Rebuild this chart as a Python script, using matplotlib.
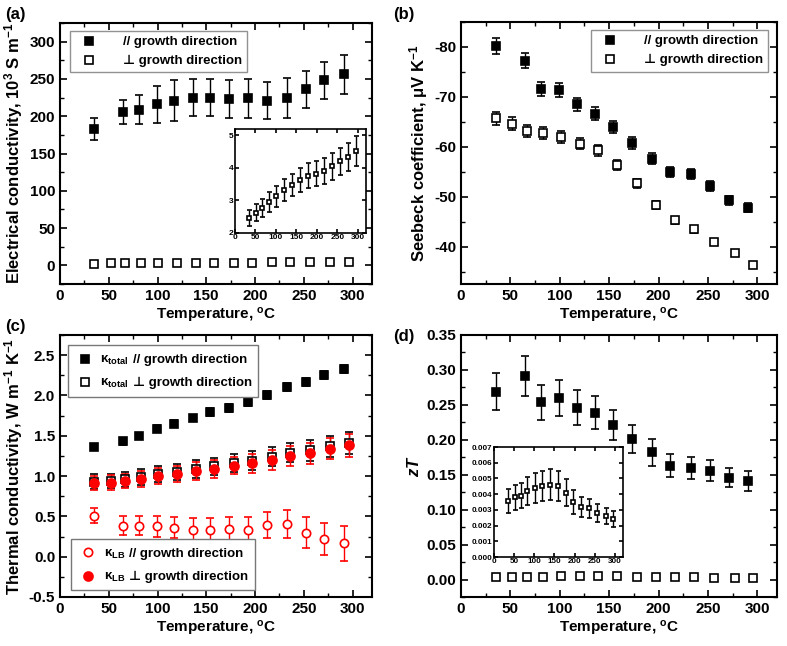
import matplotlib
matplotlib.use('Agg')
import matplotlib.pyplot as plt
from matplotlib.ticker import MultipleLocator, FormatStrFormatter
from matplotlib.offsetbox import AnchoredOffsetbox, HPacker, VPacker, TextArea, DrawingArea
from matplotlib.lines import Line2D

plt.rcParams['font.family'] = ['Liberation Sans', 'DejaVu Sans']
plt.rcParams['font.weight'] = 'bold'
plt.rcParams['axes.labelweight'] = 'bold'
plt.rcParams['axes.unicode_minus'] = False
plt.rcParams['mathtext.fontset'] = 'custom'
plt.rcParams['mathtext.rm'] = 'Liberation Sans:bold'
plt.rcParams['mathtext.it'] = 'Liberation Sans:bold:italic'
plt.rcParams['mathtext.bf'] = 'Liberation Sans:bold'

# temperatures (deg C)
T_par = [35, 65, 81, 99, 117, 136, 154, 173, 193, 212, 233, 252, 271, 291]
T_perp = [35, 52, 67, 83, 101, 120, 139, 158, 178, 197, 217, 236, 256, 277, 296]

# (a) electrical conductivity, 10^3 S/m
sig_par = [183, 206, 209, 216, 221, 225, 225, 223, 224, 221, 224, 236, 248, 256]
sig_par_err = [15, 16, 20, 25, 27, 25, 25, 25, 26, 25, 27, 25, 25, 26]
sig_perp = [2.45, 2.63, 2.78, 2.95, 3.13, 3.32, 3.48, 3.63, 3.76, 3.83, 3.92, 4.05, 4.20, 4.35, 4.53]
sig_perp_err = [0.25, 0.27, 0.28, 0.30, 0.32, 0.33, 0.35, 0.37, 0.38, 0.39, 0.40, 0.41, 0.42, 0.43, 0.46]

# (b) Seebeck coefficient, uV/K
S_par = [-80.1, -77.2, -71.5, -71.4, -68.5, -66.6, -64.0, -60.8, -57.6, -54.9, -54.5, -52.1, -49.3, -47.8]
S_par_err = [1.6, 1.5, 1.4, 1.4, 1.3, 1.3, 1.2, 1.2, 1.1, 1.0, 1.0, 1.0, 0.9, 0.9]
S_perp = [-65.7, -64.6, -63.1, -62.8, -62.0, -60.6, -59.3, -56.4, -52.7, -48.3, -45.3, -43.5, -40.9, -38.7, -36.4]
S_perp_err = [1.3, 1.3, 1.2, 1.2, 1.2, 1.1, 1.1, 1.0, 0.9, 0.8, 0.7, 0.7, 0.6, 0.6, 0.5]

# (c) thermal conductivity, W/m/K
k_par = [1.36, 1.43, 1.50, 1.59, 1.65, 1.72, 1.79, 1.85, 1.92, 2.01, 2.11, 2.17, 2.25, 2.33]
k_par_err = [0.04, 0.04, 0.04, 0.04, 0.04, 0.04, 0.05, 0.05, 0.05, 0.05, 0.05, 0.05, 0.05, 0.05]
k_perp = [0.93, 0.94, 0.96, 0.99, 1.03, 1.05, 1.09, 1.12, 1.16, 1.19, 1.24, 1.29, 1.32, 1.37, 1.41]
k_perp_err = [0.09, 0.09, 0.09, 0.10, 0.10, 0.10, 0.11, 0.11, 0.11, 0.12, 0.12, 0.12, 0.13, 0.13, 0.14]
kLB_par = [0.51, 0.385, 0.385, 0.377, 0.357, 0.336, 0.336, 0.344, 0.336, 0.394, 0.406, 0.30, 0.22, 0.166]
kLB_par_err = [0.09, 0.12, 0.12, 0.13, 0.13, 0.14, 0.15, 0.15, 0.16, 0.16, 0.17, 0.19, 0.20, 0.22]
kLB_perp = [0.916, 0.92, 0.94, 0.96, 1.00, 1.03, 1.06, 1.09, 1.13, 1.16, 1.20, 1.25, 1.285, 1.34, 1.38]
kLB_perp_err = [0.09, 0.09, 0.09, 0.10, 0.10, 0.10, 0.11, 0.11, 0.11, 0.12, 0.12, 0.12, 0.13, 0.13, 0.14]

# (d) zT
zT_par = [0.269, 0.291, 0.254, 0.260, 0.246, 0.239, 0.221, 0.201, 0.182, 0.163, 0.160, 0.156, 0.146, 0.141]
zT_par_err = [0.026, 0.029, 0.025, 0.026, 0.025, 0.024, 0.022, 0.020, 0.019, 0.016, 0.016, 0.015, 0.014, 0.014]
zT_perp = [0.00355, 0.0038, 0.0039, 0.0042, 0.0044, 0.0045, 0.0046, 0.0045, 0.0041, 0.0035, 0.0032, 0.0031, 0.0028, 0.0026, 0.0024]
zT_perp_err = [0.00077, 0.0008, 0.0008, 0.0009, 0.00095, 0.00095, 0.001, 0.00095, 0.00085, 0.00075, 0.00065, 0.0006, 0.00055, 0.0005, 0.0005]

xlabel = 'Temperature, $^{\\rm o}$C'
lab_par = '// growth direction'
lab_perp = '\u22a5 growth direction'


def style(ax, size=11, major=5, minor=3, lw=1.5):
    for sp in ax.spines.values():
        sp.set_linewidth(lw)
    ax.tick_params(which='both', direction='in', top=True, right=True, labelsize=size)
    ax.tick_params(which='major', length=major, width=1.2)
    ax.tick_params(which='minor', length=minor, width=1.0)
    ax.set_xlim(0, 320)
    ax.xaxis.set_major_locator(MultipleLocator(50))
    ax.xaxis.set_minor_locator(MultipleLocator(25))


def ebar(ax, x, y, e, fill='k', col='k', marker='s', ms=5.5, cap=3.2):
    return ax.errorbar(x, y, yerr=e, fmt=marker, ms=ms, mfc=fill, mec=col, mew=1.2,
                       ecolor=col, elinewidth=1, capsize=cap, capthick=1)


def legend(ax, handles, labels, **kw):
    leg = ax.legend([h[0] for h in handles], labels, fontsize=9.5, frameon=True,
                    fancybox=False, borderaxespad=0.3, **kw)
    leg.get_frame().set_edgecolor('#777777')
    leg.get_frame().set_linewidth(1.0)
    return leg


def kappa_legend(ax, rows, loc, anchor):
    # rows: (marker, face, edge, size, subscript, text)
    packs = []
    for marker, fc, ec, ms, sub, rest in rows:
        da = DrawingArea(16, 10, 0, 2)
        da.add_artist(Line2D([8], [3], marker=marker, ms=ms, mfc=fc, mec=ec, mew=1.2, ls='none'))
        t1 = TextArea('\u03ba$_{\\rm ' + sub + '}$', textprops=dict(fontsize=9.5))
        t2 = TextArea(rest, textprops=dict(fontsize=9.5))
        packs.append(HPacker(children=[da, t1, t2], align='baseline', pad=0, sep=3))
    box = AnchoredOffsetbox(loc=loc, child=VPacker(children=packs, align='left', pad=0, sep=6),
                            pad=0.45, borderpad=0, frameon=True,
                            bbox_to_anchor=anchor, bbox_transform=ax.transAxes)
    box.patch.set_edgecolor('#777777')
    box.patch.set_linewidth(1.0)
    ax.add_artist(box)


fig = plt.figure(figsize=(7.87, 6.46), dpi=100)
W, H = 787, 646


def box(x0, y0, x1, y1):
    return [x0 / W, 1 - y1 / H, (x1 - x0) / W, (y1 - y0) / H]


# (a)
ax = fig.add_axes(box(60, 23, 372, 284))
ha = ebar(ax, T_par, sig_par, sig_par_err)
hb = ebar(ax, T_perp, sig_perp, None, fill='white')
style(ax)
ax.set_ylim(-25, 325)
ax.yaxis.set_major_locator(MultipleLocator(50))
ax.yaxis.set_minor_locator(MultipleLocator(25))
ax.set_xlabel(xlabel, fontsize=11, labelpad=2)
ax.set_ylabel('Electrical conductivity, 10$^{3}$ S m$^{-1}$', fontsize=12, labelpad=3)
legend(ax, [ha, hb], [lab_par, lab_perp], loc='upper left', bbox_to_anchor=(0.02, 0.985),
       handletextpad=1.6)

ins = fig.add_axes(box(235, 129, 366, 233))
ebar(ins, T_perp, sig_perp, sig_perp_err, fill='white', ms=3, cap=1.8)
style(ins, size=6, major=3, minor=0, lw=1.2)
ins.set_ylim(2, 5.2)
ins.yaxis.set_major_locator(MultipleLocator(1))
ins.tick_params(pad=1)

# (b)
ax = fig.add_axes(box(461, 22, 777, 284))
ha = ebar(ax, T_par, S_par, S_par_err)
hb = ebar(ax, T_perp, S_perp, S_perp_err, fill='white')
style(ax)
ax.set_ylim(-32.5, -85)
ax.yaxis.set_major_locator(MultipleLocator(10))
ax.yaxis.set_minor_locator(MultipleLocator(5))
ax.set_xlabel(xlabel, fontsize=11, labelpad=2)
ax.set_ylabel('Seebeck coefficient, \u03bcV K$^{-1}$', fontsize=12, labelpad=3)
legend(ax, [ha, hb], [lab_par, lab_perp], loc='upper right', bbox_to_anchor=(0.985, 0.985),
       handletextpad=1.6)

# (c)
ax = fig.add_axes(box(60, 335, 372, 597))
ebar(ax, T_par, k_par, k_par_err)
ebar(ax, T_perp, k_perp, k_perp_err, fill='white')
ebar(ax, T_par, kLB_par, kLB_par_err, fill='white', col='red', marker='o', ms=6)
ebar(ax, T_perp, kLB_perp, kLB_perp_err, fill='red', col='red', marker='o', ms=6.5)
style(ax)
ax.set_ylim(-0.5, 2.75)
ax.yaxis.set_major_locator(MultipleLocator(0.5))
ax.yaxis.set_minor_locator(MultipleLocator(0.25))
ax.yaxis.set_major_formatter(FormatStrFormatter('%.1f'))
ax.set_xlabel(xlabel, fontsize=11, labelpad=2)
ax.set_ylabel('Thermal conductivity, W m$^{-1}$ K$^{-1}$', fontsize=12, labelpad=3)
kappa_legend(ax, [('s', 'k', 'k', 5.5, 'total', lab_par),
                  ('s', 'white', 'k', 5.5, 'total', lab_perp)],
             'upper left', (0.025, 0.96))
kappa_legend(ax, [('o', 'white', 'red', 6, 'LB', lab_par),
                  ('o', 'red', 'red', 6.5, 'LB', lab_perp)],
             'lower left', (0.035, 0.025))

# (d)
ax = fig.add_axes(box(461, 335, 777, 597))
ebar(ax, T_par, zT_par, zT_par_err)
ebar(ax, T_perp, zT_perp, None, fill='white')
style(ax)
ax.set_ylim(-0.025, 0.35)
ax.yaxis.set_major_locator(MultipleLocator(0.05))
ax.yaxis.set_minor_locator(MultipleLocator(0.025))
ax.yaxis.set_major_formatter(FormatStrFormatter('%.2f'))
ax.set_xlabel(xlabel, fontsize=11, labelpad=2)
ax.set_ylabel('$zT$', fontsize=12, labelpad=3)

ins = fig.add_axes(box(494, 447, 623, 557))
ebar(ins, T_perp, zT_perp, zT_perp_err, fill='white', ms=3, cap=1.8)
style(ins, size=5.8, major=3, minor=0, lw=1.2)
ins.set_ylim(0, 0.007)
ins.yaxis.set_major_locator(MultipleLocator(0.001))
ins.yaxis.set_major_formatter(FormatStrFormatter('%.3f'))
ins.tick_params(pad=1)

for txt, x, y in [('(a)', 5, 14), ('(b)', 393, 14), ('(c)', 5, 327), ('(d)', 393, 337)]:
    fig.text(x / W, 1 - y / H, txt, fontsize=12, fontweight='bold', va='center', ha='left')

fig.savefig('out.png', dpi=100)
